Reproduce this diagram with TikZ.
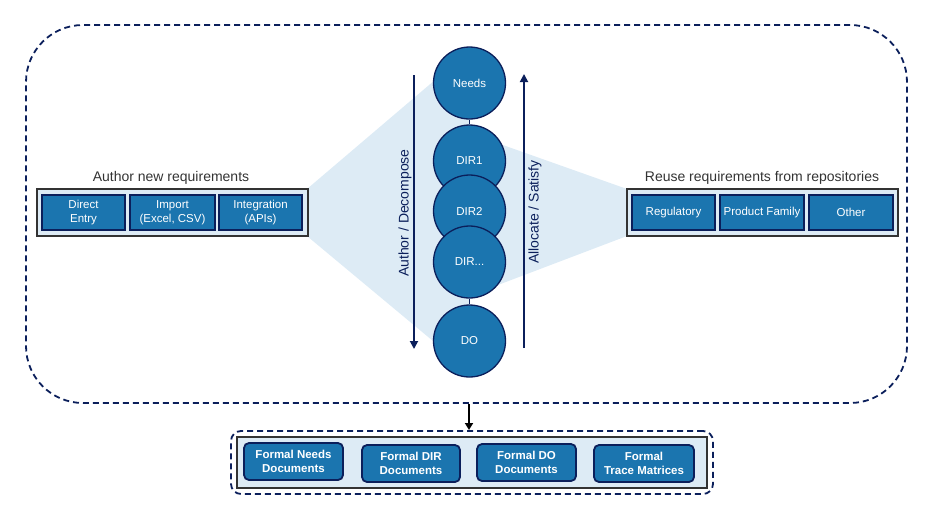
\documentclass[tikz,border=0pt]{standalone}
\usepackage{fontspec}
\setmainfont{Liberation Sans}
\usetikzlibrary{arrows.meta}
\definecolor{mblue}{HTML}{1B75AF}
\definecolor{navy}{HTML}{0B1F5B}
\definecolor{lblue}{HTML}{DDEBF5}
\definecolor{dgray}{HTML}{333333}
\tikzset{
  circ/.style={circle, draw=navy, line width=1.3pt, fill=mblue, minimum size=72pt, inner sep=0pt, text=white, font=\fontsize{11.5}{13}\selectfont},
  ibox/.style={draw=navy, line width=2pt, fill=mblue, text=white, align=center, font=\fontsize{11.5}{14}\selectfont, inner sep=0pt},
  fbox/.style={draw=navy, line width=1.8pt, fill=mblue, text=white, align=center, rounded corners=5pt, font=\bfseries\fontsize{11.5}{13.5}\selectfont, inner sep=0pt},
  gbox/.style={draw=dgray, line width=2pt, fill=lblue, inner sep=0pt},
  glabel/.style={text=dgray, font=\fontsize{14}{16}\selectfont},
  dashbox/.style={draw=navy, line width=1.8pt, dash pattern=on 6pt off 4pt},
  flow/.style={draw=navy, line width=1.8pt, -{Triangle[length=8pt,width=8pt]}},
  alabel/.style={text=navy, font=\fontsize{14}{16}\selectfont, rotate=90}
}
\begin{document}
\begin{tikzpicture}[x=1pt,y=-1pt]
\useasboundingbox (0,0) rectangle (939,509);
% outer dashed box
\node[dashbox, rounded corners=57pt, minimum width=881pt, minimum height=378pt, inner sep=0pt] (outer) at (466.5,214) {};
% fans
\fill[lblue] (307,189) -- (469,51) -- (469,371) -- (307,236) -- cycle;
\fill[lblue] (469,133) -- (627,189) -- (627,236) -- (469,296) -- cycle;
% left group
\node[gbox, minimum width=271pt, minimum height=47pt] (lg) at (172,212.5) {};
\node[glabel] (lgl) at (171,177.5) {Author new requirements};
\node[ibox, minimum width=83pt, minimum height=35pt] (de) at (83.5,212.5) {Direct\\Entry};
\node[ibox, minimum width=85pt, minimum height=35pt] (im) at (172.5,212.5) {Import\\(Excel, CSV)};
\node[ibox, minimum width=83pt, minimum height=35pt] (ig) at (260.5,212.5) {Integration\\(APIs)};
% right group
\node[gbox, minimum width=271pt, minimum height=47pt] (rg) at (762.5,212.5) {};
\node[glabel] (rgl) at (762,177.5) {Reuse requirements from repositories};
\node[ibox, minimum width=83pt, minimum height=35pt] (rr) at (673.5,212.5) {Regulatory};
\node[ibox, minimum width=84pt, minimum height=35pt] (pf) at (762,212.5) {Product Family};
\node[ibox, minimum width=84pt, minimum height=35pt] (ot) at (851,212.5) {Other};
% circles
\node[circ] (needs) at (469.5,83) {Needs};
\node[circ] (dir1) at (469.5,161) {DIR1};
\node[circ] (dir2) at (469.5,211) {DIR2};
\node[circ] (dirx) at (469.5,262) {DIR...};
\node[circ] (do) at (469.5,341) {DO};
\draw[navy, line width=1.5pt] (needs) -- (dir1);
\draw[navy, line width=1.5pt] (dirx) -- (do);
% arrows
\coordinate (la1) at (414,75);
\coordinate (la2) at (414,349);
\coordinate (ra1) at (524,348);
\coordinate (ra2) at (524,74);
\draw[flow] (la1) -- (la2);
\draw[flow] (ra1) -- (ra2);
\node[alabel] (lal) at (405,213) {Author / Decompose};
\node[alabel] (ral) at (535,212) {Allocate / Satisfy};
% bottom
\node[dashbox, rounded corners=10pt, minimum width=482pt, minimum height=63pt, inner sep=0pt] (bot) at (472,462.5) {};
\coordinate (ba1) at (469,404);
\coordinate (ba2) at (469,430);
\draw[black, line width=2pt, -{Triangle[length=7pt,width=8pt]}] (ba1) -- (ba2);
\node[gbox, minimum width=470pt, minimum height=51pt] (bg) at (472,462.5) {};
\node[fbox, minimum width=99pt, minimum height=37pt] (f1) at (293.5,461.5) {Formal Needs\\Documents};
\node[fbox, minimum width=98pt, minimum height=37pt] (f2) at (411,463.5) {Formal DIR\\Documents};
\node[fbox, minimum width=99pt, minimum height=37pt] (f3) at (526.5,462.5) {Formal DO\\Documents};
\node[fbox, minimum width=100pt, minimum height=37pt] (f4) at (644,463.5) {Formal\\Trace Matrices};
\end{tikzpicture}
\end{document}
